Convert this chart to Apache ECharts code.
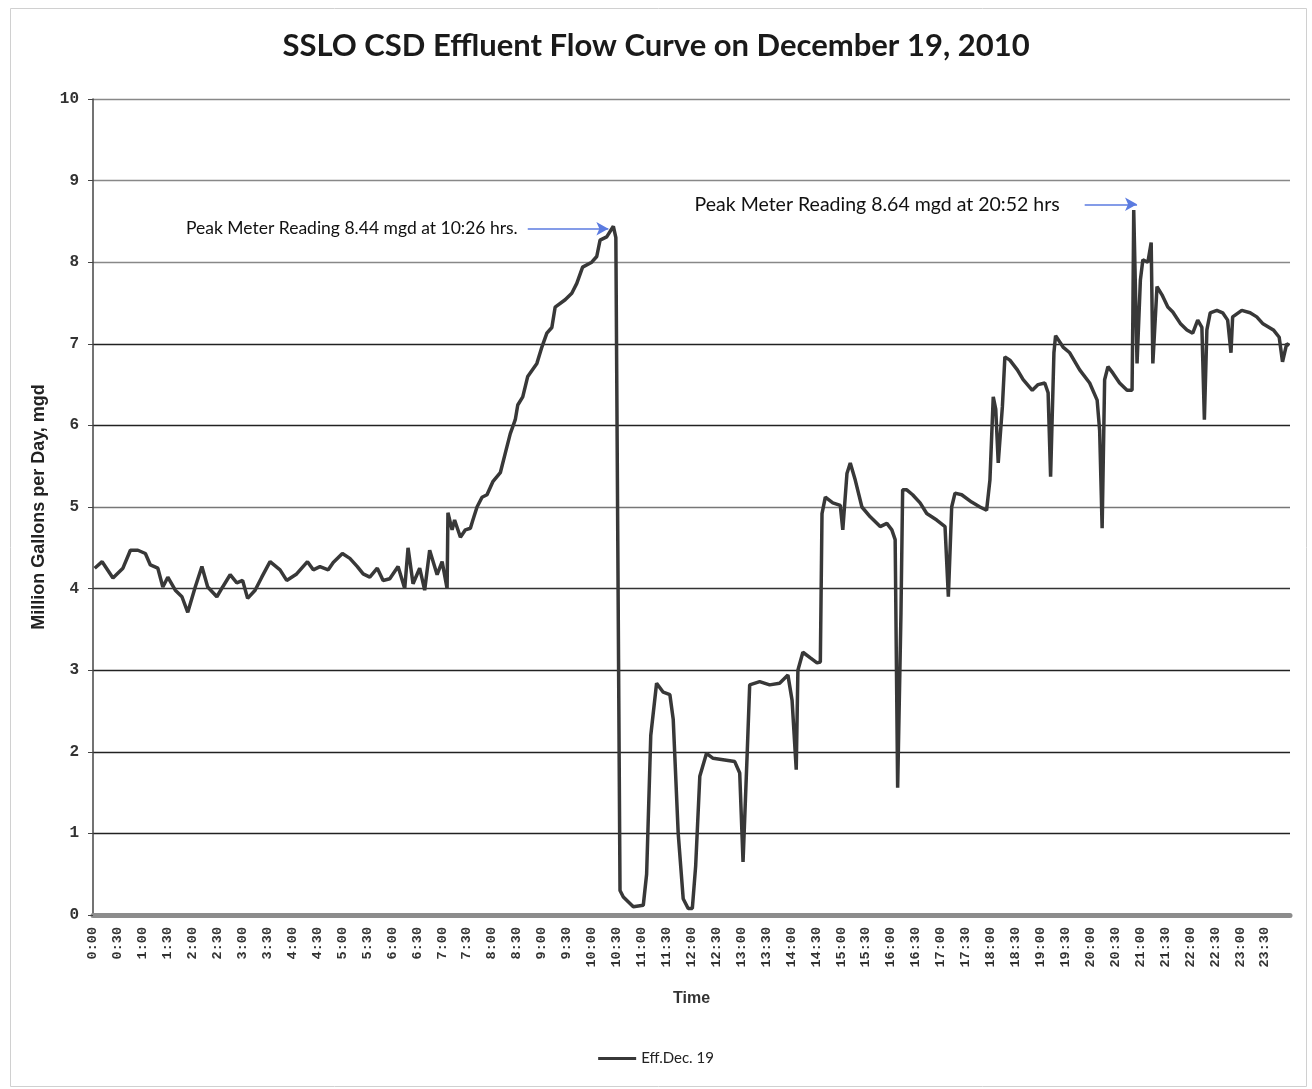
<!DOCTYPE html>
<html>
<head>
<meta charset="utf-8">
<script src="https://cdn.jsdelivr.net/npm/echarts@6/dist/echarts.min.js"></script>
<style>
  html, body { margin: 0; padding: 0; background: #ffffff; }
  #chart { width: 1312px; height: 1089px; }
</style>
</head>
<body>
<div id="chart"></div>
<script>
// Time of reading, minutes after midnight
const times = [
  2, 11, 24, 36, 45, 54, 63, 69, 78, 84, 90, 99, 107, 114, 123, 131, 138, 149, 156, 165,
  173, 180, 186, 195, 203, 213, 225, 233, 245, 258, 265, 273, 283, 289, 300, 309, 318, 325, 333, 342,
  349, 357, 367, 375, 379, 385, 393, 399, 405, 414, 420, 426,
  427, 432, 435, 442, 448, 454, 457, 462, 468, 474, 481, 490, 496, 502, 508, 511, 517, 523,
  534, 540, 546, 552, 556, 568, 576, 582, 589, 600, 606, 610, 618, 626, 629, 634,
  638, 650, 662, 666, 671, 678, 686, 694, 698, 704, 710, 716, 721, 725, 730, 738, 746, 760, 772, 778,
  782, 787, 790, 802, 814, 826, 836, 841, 846, 848, 854, 863, 871, 875, 877, 881, 890, 899, 902, 907,
  911, 917, 925, 935, 947, 955, 961, 965, 968, 972, 974, 979, 986, 995, 1003, 1015, 1025, 1029, 1033, 1037,
  1045, 1057, 1067, 1075, 1079, 1083, 1086, 1089, 1094, 1097, 1103, 1112, 1119, 1130, 1137, 1145, 1149, 1152, 1156, 1158,
  1167, 1175, 1187, 1199, 1208, 1211, 1214, 1217, 1221, 1227, 1235, 1244, 1250, 1251, 1252, 1256, 1260, 1263, 1269, 1273,
  1275, 1280, 1286, 1293, 1299, 1308, 1316, 1323, 1329, 1334, 1337, 1340, 1344, 1352, 1359, 1365, 1369, 1371, 1382, 1392,
  1400, 1407, 1420, 1427, 1431, 1436, 1439
];
// Effluent flow, million gallons per day
const flows = [
  4.25, 4.33, 4.13, 4.25, 4.47, 4.47, 4.43, 4.29, 4.25, 4.02, 4.14, 3.98, 3.90, 3.71, 4.02, 4.27, 4.02, 3.90, 4.02, 4.17,
  4.07, 4.10, 3.88, 3.98, 4.14, 4.33, 4.23, 4.10, 4.18, 4.33, 4.23, 4.27, 4.23, 4.32, 4.43, 4.37, 4.27, 4.18, 4.14, 4.25,
  4.10, 4.12, 4.27, 4.00, 4.50, 4.06, 4.25, 3.98, 4.47, 4.17, 4.33, 4.00,
  4.93, 4.72, 4.84, 4.63, 4.72, 4.74, 4.84, 5.00, 5.12, 5.15, 5.31, 5.42, 5.66, 5.90, 6.07, 6.25, 6.35, 6.60,
  6.76, 6.96, 7.13, 7.20, 7.45, 7.54, 7.62, 7.74, 7.94, 8.00, 8.07, 8.27, 8.31, 8.44, 8.30, 0.30,
  0.22, 0.10, 0.12, 0.50, 2.20, 2.84, 2.73, 2.70, 2.40, 1.00, 0.20, 0.08, 0.08, 0.60, 1.70, 1.98, 1.92, 1.90, 1.88, 1.74,
  0.65, 1.98, 2.82, 2.86, 2.82, 2.84, 2.94, 2.63, 1.78, 3.00, 3.22, 3.15, 3.09, 3.10, 4.92, 5.12, 5.05, 5.02, 4.72, 5.41,
  5.54, 5.33, 5.00, 4.88, 4.76, 4.80, 4.72, 4.60, 1.56, 3.70, 5.21, 5.21, 5.15, 5.05, 4.92, 4.84, 4.76, 3.90, 5.00, 5.17,
  5.15, 5.06, 5.00, 4.96, 5.33, 6.35, 6.20, 5.54, 6.23, 6.84, 6.80, 6.68, 6.56, 6.43, 6.50, 6.52, 6.40, 5.37, 6.89, 7.10,
  6.96, 6.89, 6.68, 6.52, 6.31, 5.94, 4.74, 6.56, 6.72, 6.64, 6.52, 6.43, 6.43, 7.38, 8.64, 6.76, 7.78, 8.03, 8.00, 8.24,
  6.76, 7.70, 7.60, 7.45, 7.39, 7.25, 7.17, 7.13, 7.29, 7.20, 6.07, 7.17, 7.38, 7.41, 7.38, 7.29, 6.89, 7.33, 7.41, 7.38,
  7.33, 7.25, 7.17, 7.08, 6.78, 7.00, 6.98
];
// x-axis tick labels, one every 30 minutes
const timeLabels = [
  '0:00','0:30','1:00','1:30','2:00','2:30','3:00','3:30','4:00','4:30','5:00','5:30',
  '6:00','6:30','7:00','7:30','8:00','8:30','9:00','9:30','10:00','10:30','11:00','11:30',
  '12:00','12:30','13:00','13:30','14:00','14:30','15:00','15:30','16:00','16:30','17:00','17:30',
  '18:00','18:30','19:00','19:30','20:00','20:30','21:00','21:30','22:00','22:30','23:00','23:30'
];
const yTicks = [0, 1, 2, 3, 4, 5, 6, 7, 8, 9, 10];
// Annotations: [startMinute, startFlow, endMinute, endFlow, text]
const annotations = [
  [523, 8.41, 620, 8.41, 'Peak Meter Reading 8.44 mgd at 10:26 hrs.'],
  [1193, 8.71, 1256, 8.71, 'Peak Meter Reading 8.64 mgd at 20:52 hrs']
];
const annotationStyles = [
  { fontSize: 17.5, distance: 10 },
  { fontSize: 19.5, distance: 25 }
];

const seriesData = times.map((t, i) => [t, flows[i]]);

const chart = echarts.init(document.getElementById('chart'), null, { renderer: 'canvas' });
chart.setOption({
  backgroundColor: '#ffffff',
  animation: false,
  title: {
    text: 'SSLO CSD Effluent Flow Curve on December 19, 2010',
    left: 'center',
    top: 25,
    textStyle: { fontFamily: 'Lato', fontWeight: 'bold', fontSize: 31, color: '#1a1a1a' }
  },
  legend: {
    bottom: 18,
    left: 'center',
    itemWidth: 38,
    itemHeight: 3,
    icon: 'rect',
    itemGap: 4,
    textStyle: { fontFamily: 'Lato', fontSize: 15, color: '#222' },
    data: ['Eff.Dec. 19']
  },
  grid: { left: 93, right: 22, top: 99, bottom: 174, containLabel: false },
  xAxis: {
    type: 'value',
    min: 0,
    max: 1440,
    interval: 30,
    name: 'Time',
    nameLocation: 'middle',
    nameGap: 76,
    nameTextStyle: { fontFamily: 'Liberation Sans', fontWeight: 'bold', fontSize: 16, color: '#333' },
    axisLine: { show: true, lineStyle: { color: '#8c8c8c', width: 5 } },
    axisTick: { show: false },
    splitLine: { show: false },
    axisLabel: {
      rotate: 90,
      margin: 12,
      fontFamily: 'Liberation Mono',
      fontWeight: 'bold',
      fontSize: 13.5,
      color: '#333',
      formatter: (v) => { const i = Math.round(v / 30); return i < timeLabels.length ? timeLabels[i] : ''; }
    }
  },
  yAxis: {
    type: 'value',
    min: yTicks[0],
    max: yTicks[yTicks.length - 1],
    interval: 1,
    name: 'Million Gallons per Day, mgd',
    nameLocation: 'middle',
    nameGap: 45,
    nameTextStyle: { fontFamily: 'Liberation Sans', fontWeight: 'bold', fontSize: 18, color: '#222' },
    axisLine: { show: true, lineStyle: { color: '#444', width: 1.5 } },
    axisTick: { show: true, length: 5, lineStyle: { color: '#444' } },
    axisLabel: {
      margin: 14,
      fontFamily: 'Liberation Mono',
      fontWeight: 'bold',
      fontSize: 16,
      color: '#333'
    },
    splitLine: {
      show: true,
      lineStyle: {
        width: 1.3,
        color: ['#555', '#222', '#222', '#222', '#333', '#777', '#222', '#222', '#888', '#888', '#888']
      }
    }
  },
  series: [{
    name: 'Eff.Dec. 19',
    type: 'line',
    data: seriesData,
    showSymbol: false,
    symbol: 'none',
    smooth: false,
    lineStyle: { color: '#383838', width: 3.5 },
    itemStyle: { color: '#383838' },
    markLine: {
      silent: true,
      symbol: ['none', 'arrow'],
      symbolSize: [10, 12],
      animation: false,
      lineStyle: { color: '#5b7be0', width: 1.5, type: 'solid' },
      label: {
        show: true,
        position: 'start',
        distance: 10,
        fontFamily: 'Lato',
        fontSize: 17,
        color: '#111',
        formatter: (p) => p.data.name || p.name
      },
      data: annotations.map((a, i) => [
        { coord: [a[0], a[1]], name: a[4], label: annotationStyles[i] },
        { coord: [a[2], a[3]], label: annotationStyles[i] }
      ])
    }
  }],
  graphic: [
    { type: 'rect', left: 8, top: 6, shape: { width: 1296, height: 1078 }, style: { fill: 'none', stroke: '#d0d0d0', lineWidth: 1 }, silent: true }
  ]
});
</script>
</body>
</html>
